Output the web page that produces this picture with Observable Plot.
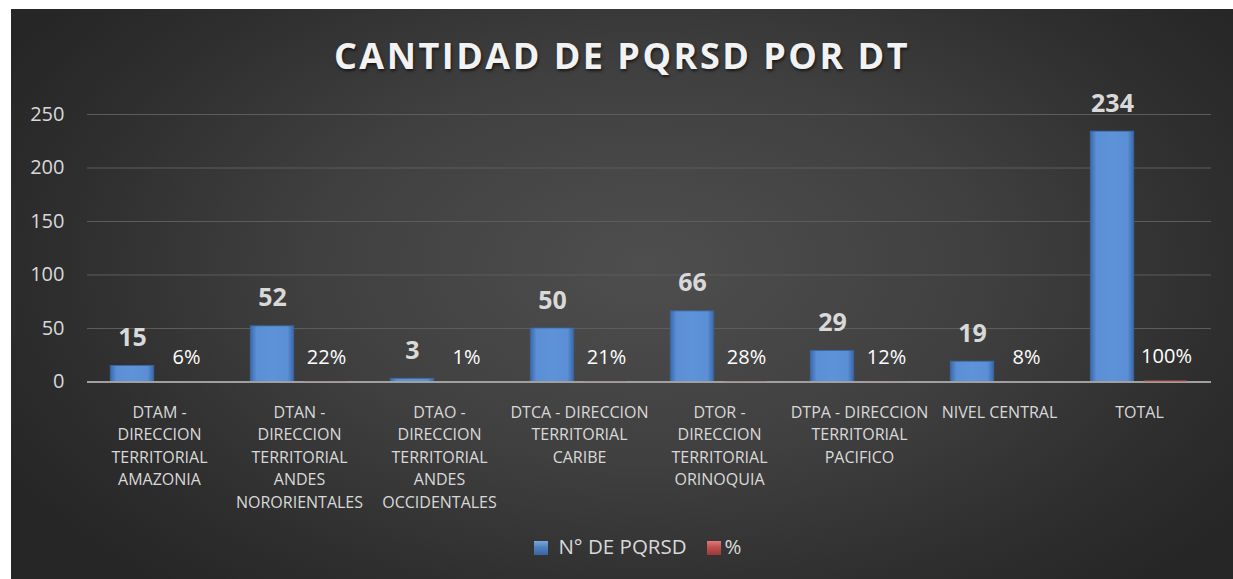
<!DOCTYPE html>
<html><head><meta charset="utf-8">
<script src="https://cdn.jsdelivr.net/npm/d3@7"></script>
<script src="https://cdn.jsdelivr.net/npm/@observablehq/plot@0.6"></script>
<style>
html,body{margin:0;padding:0;background:#fff;width:1233px;height:579px;overflow:hidden;font-family:"Open Sans",sans-serif;}
#bg{position:absolute;left:11px;top:9px;width:1222px;height:570px;
  background:radial-gradient(ellipse 60% 75% at 52% 45%, #4e4e4e 0%, #404040 45%, #2e2e2e 80%, #262626 100%);}
#title{position:absolute;left:11px;top:38px;width:1222px;text-align:center;font-size:36px;line-height:36px;font-weight:700;
  color:#f2f2f2;letter-spacing:2.5px;text-shadow:1px 2px 3px rgba(0,0,0,0.6);}
#chart{position:absolute;left:0;top:85px;}
#legend{position:absolute;left:27px;top:536px;width:1222px;text-align:center;font-size:20.5px;line-height:20px;color:#d9d9d9;}
#legend span.sw{display:inline-block;width:14px;height:14px;vertical-align:-1px;}
#legend span.item{margin:0 10px;}
</style></head>
<body>
<div id="bg"></div>
<div id="title">CANTIDAD DE PQRSD POR DT</div>
<div id="chart"></div>
<div id="legend"></div>
<script>
const categories = [
  "DTAM - DIRECCION TERRITORIAL AMAZONIA",
  "DTAN - DIRECCION TERRITORIAL ANDES NORORIENTALES",
  "DTAO - DIRECCION TERRITORIAL ANDES OCCIDENTALES",
  "DTCA - DIRECCION TERRITORIAL CARIBE",
  "DTOR - DIRECCION TERRITORIAL ORINOQUIA",
  "DTPA - DIRECCION TERRITORIAL PACIFICO",
  "NIVEL CENTRAL",
  "TOTAL"
];
const tickLabels = [
  "DTAM -\nDIRECCION\nTERRITORIAL\nAMAZONIA",
  "DTAN -\nDIRECCION\nTERRITORIAL\nANDES\nNORORIENTALES",
  "DTAO -\nDIRECCION\nTERRITORIAL\nANDES\nOCCIDENTALES",
  "DTCA - DIRECCION\nTERRITORIAL\nCARIBE",
  "DTOR -\nDIRECCION\nTERRITORIAL\nORINOQUIA",
  "DTPA - DIRECCION\nTERRITORIAL\nPACIFICO",
  "NIVEL CENTRAL",
  "TOTAL"
];
const counts = [15, 52, 3, 50, 66, 29, 19, 234];
const percents = [6, 22, 1, 21, 28, 12, 8, 100];
const yTicks = [0, 50, 100, 150, 200, 250];
const seriesNames = ["N° DE PQRSD", "%"];
const seriesColors = ["#4f81bd", "#c0504d"];

const data = categories.map((c, i) => ({cat: c, label: tickLabels[i], count: counts[i], pct: percents[i] / 100, pctLabel: percents[i] + "%"}));

const svg = Plot.plot({
  width: 1233,
  height: 435,
  marginLeft: 87,
  marginRight: 22,
  marginTop: 29,
  marginBottom: 138.5,
  style: {background: "transparent", color: "#d9d9d9", fontFamily: "'Open Sans', sans-serif", overflow: "visible"},
  x: {domain: categories, padding: 0, axis: null},
  y: {domain: [0, 250], axis: null},
  marks: [
    Plot.ruleY(yTicks.filter(t => t > 0), {stroke: "#5c5c5c", strokeWidth: 1}),
    Plot.axisY({ticks: yTicks, tickSize: 0, tickPadding: 23, fontSize: 20, fill: "#d9d9d9", label: null}),
    Plot.barY(data, {x: "cat", y: "count", fill: "url(#blueGrad)", stroke: "#3b67a2", strokeWidth: 0.8, insetLeft: 21.25, insetRight: 75.25}),
    Plot.ruleY([0], {stroke: "#a0a0a0", strokeWidth: 2}),
    Plot.barY(data, {x: "cat", y: "pct", fill: seriesColors[1], insetLeft: 75.25, insetRight: 22.25}),
    Plot.text(data, {x: "cat", y: "count", text: d => String(d.count), dx: -27, dy: -28, fontSize: 25, fontWeight: "bold", fill: "#d9d9d9"}),
    Plot.text(data, {x: "cat", y: "pct", text: "pctLabel", dx: 27, dy: -24, fontSize: 20, fill: "#ffffff"}),
    Plot.text(data, {x: "cat", y: 0, text: "label", dy: 20, lineAnchor: "top", lineHeight: 1.4, fontSize: 16, fill: "#d9d9d9"})
  ]
});

const defs = d3.select(svg).insert("defs", ":first-child");
const g = defs.append("linearGradient").attr("id", "blueGrad").attr("x1", 0).attr("x2", 1).attr("y1", 0).attr("y2", 0);
[[0, "#3a69aa"], [0.14, "#5a8ed5"], [0.5, "#5e92d9"], [0.86, "#5a8ed5"], [1, "#3867a6"]]
  .forEach(([o, c]) => g.append("stop").attr("offset", o).attr("stop-color", c));

document.getElementById("chart").appendChild(svg);

const legend = document.getElementById("legend");
seriesNames.forEach((n, i) => {
  const item = document.createElement("span");
  item.className = "item";
  const sw = document.createElement("span");
  sw.className = "sw";
  sw.style.background = i === 0
    ? "linear-gradient(180deg,#7aa6e0 0%,#4f81bd 45%,#3a66a3 100%)"
    : "linear-gradient(180deg,#e07a78 0%,#c0504d 45%,#9a3a38 100%)";
  sw.style.marginRight = i === 0 ? "10px" : "4px";
  item.appendChild(sw);
  item.appendChild(document.createTextNode(n));
  legend.appendChild(item);
});
</script>
</body></html>
